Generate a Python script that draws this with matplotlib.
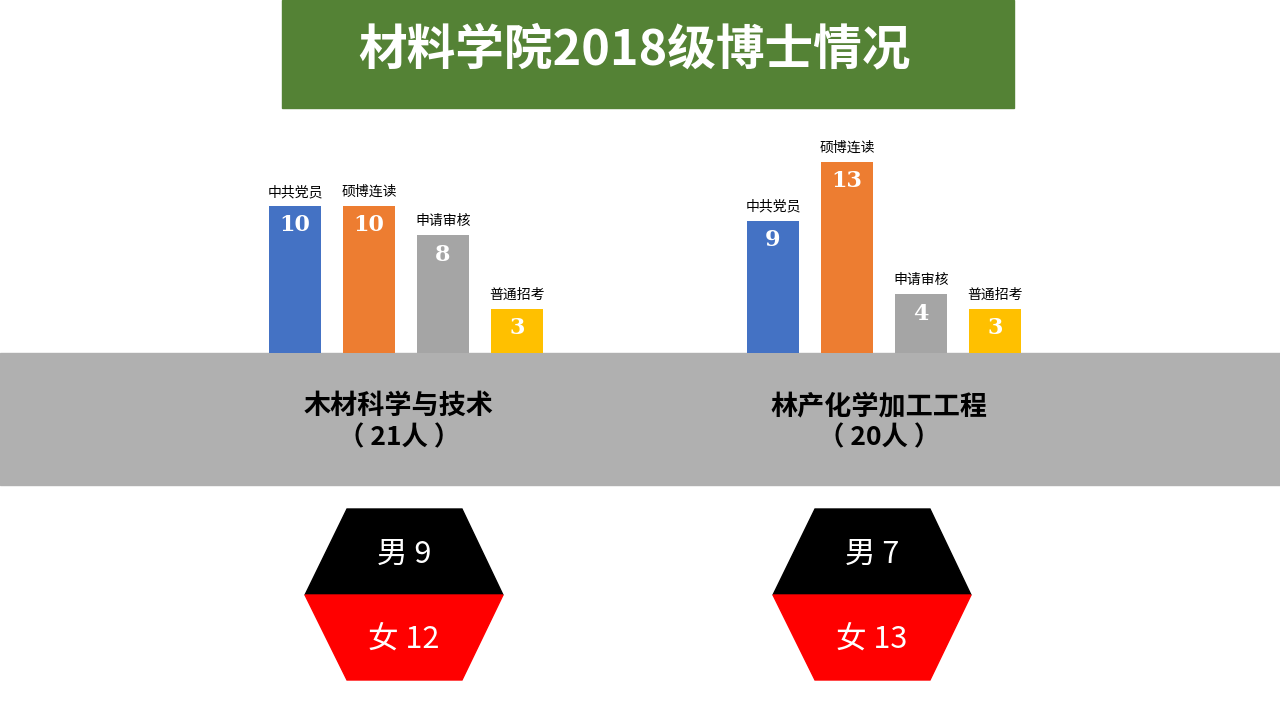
import matplotlib.pyplot as plt
from matplotlib.patches import Rectangle, Polygon

plt.rcParams['font.family'] = ['Noto Sans CJK SC', 'DejaVu Sans']

# data
title = "材料学院2018级博士情况"
categories = ["中共党员", "硕博连读", "申请审核", "普通招考"]
majors = ["木材科学与技术", "林产化学加工工程"]
totals = [21, 20]
left_values = [10, 10, 8, 3]
right_values = [9, 13, 4, 3]
male = [9, 7]
female = [12, 13]
bar_colors = ["#4472C4", "#ED7D31", "#A5A5A5", "#FFC000"]

W, H = 1280, 720
fig = plt.figure(figsize=(12.8, 7.2), dpi=100)
bg = fig.add_axes([0, 0, 1, 1])
bg.set_xlim(0, W)
bg.set_ylim(H, 0)
bg.axis("off")

# title bar
bg.add_patch(Rectangle((282, 0), 732, 108, color="#548235"))
bg.text(634, 50, title, color="white", fontsize=35, fontweight="heavy",
        ha="center", va="center")

# gray band
bg.add_patch(Rectangle((0, 353), W, 132, color="#B0B0B0"))

centers = [399, 879]
for i, c in enumerate(centers):
    bg.text(c, 406, majors[i], fontsize=19.5, fontweight="heavy", ha="center", va="center")
    bg.text(c, 438, f"（ {totals[i]}人 ）", fontsize=19, fontweight="heavy",
            ha="center", va="center")

# hexagons
hex_centers = [404, 872]
for i, hc in enumerate(hex_centers):
    top = [(hc - 57, 509), (hc + 58, 509), (hc + 99, 595), (hc - 99, 595)]
    bot = [(hc - 99, 595), (hc + 99, 595), (hc + 58, 680), (hc - 57, 680)]
    bg.add_patch(Polygon(top, closed=True, color="black"))
    bg.add_patch(Polygon(bot, closed=True, color="#FF0000"))
    bg.text(hc, 554, f"男 {male[i]}", color="white", fontsize=22, fontweight="light",
            ha="center", va="center")
    bg.text(hc, 640, f"女 {female[i]}", color="white", fontsize=22, fontweight="light",
            ha="center", va="center")

# bar charts
px_per_unit = 14.7
ymax = 14
ax_h = ymax * px_per_unit
base = 353
for group_left, vals in zip([258, 736], [left_values, right_values]):
    ax = fig.add_axes([group_left / W, (H - base) / H, 296 / W, ax_h / H])
    ax.patch.set_alpha(0)
    x = range(len(vals))
    ax.bar(x, vals, width=0.7, color=bar_colors)
    ax.set_xlim(-0.5, 3.5)
    ax.set_ylim(0, ymax)
    ax.axis("off")
    for xi, v, name in zip(x, vals, categories):
        ax.annotate(name, (xi, v), xytext=(0, 5), textcoords="offset points",
                    ha="center", va="bottom", fontsize=10)
        ax.annotate(str(v), (xi, v), xytext=(0, -14), textcoords="offset points",
                    ha="center", va="center", fontsize=16, fontweight="bold",
                    color="white", family="DejaVu Serif")

fig.savefig("out.png", dpi=100)
